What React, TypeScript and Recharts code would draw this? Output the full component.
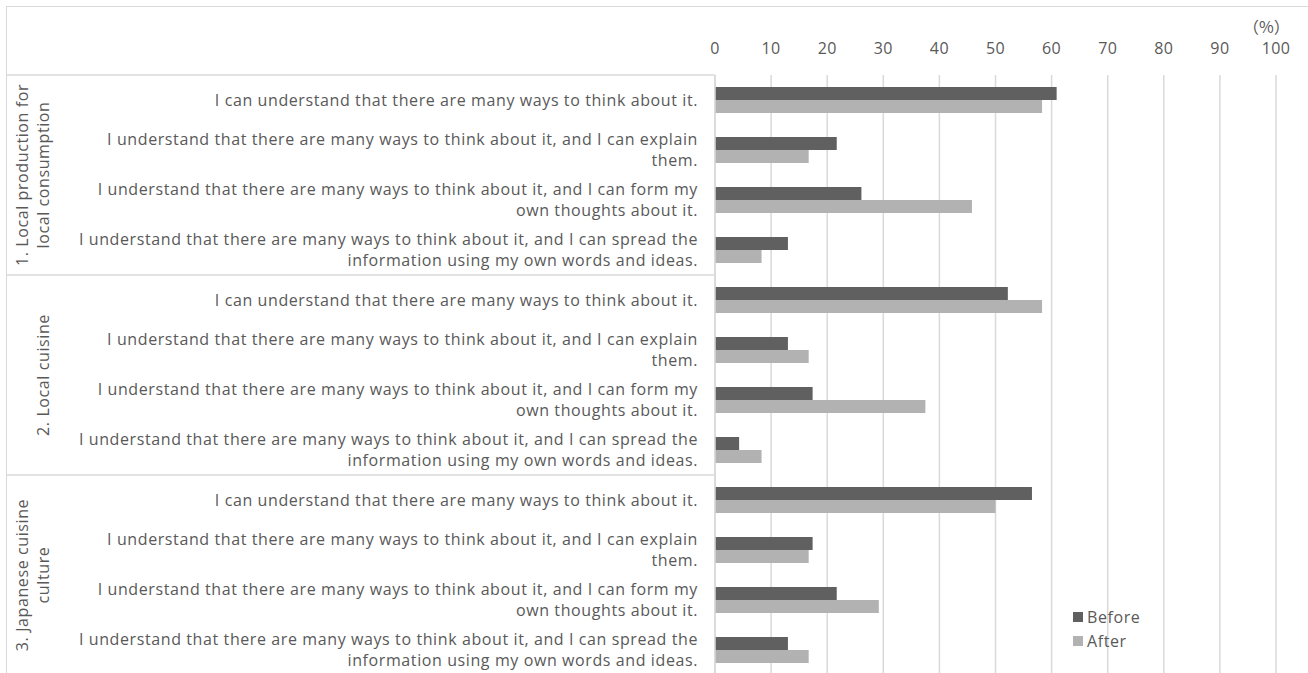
import React from 'react'
import { BarChart, Bar, XAxis, YAxis, CartesianGrid, Legend } from 'recharts'

const groups = [
  '1. Local production for\nlocal consumption',
  '2. Local cuisine',
  '3. Japanese cuisine\nculture',
]

const statements = [
  'I can understand that there are many ways to think about it.',
  'I understand that there are many ways to think about it, and I can explain\nthem.',
  'I understand that there are many ways to think about it, and I can form my\nown thoughts about it.',
  'I understand that there are many ways to think about it, and I can spread the\ninformation using my own words and ideas.',
]

const seriesNames = ['Before', 'After']

// percentages, 4 statements per group, in group order
const before = [60.9, 21.7, 26.1, 13.0, 52.2, 13.0, 17.4, 4.3, 56.5, 17.4, 21.7, 13.0]
const after = [58.3, 16.7, 45.8, 8.3, 58.3, 16.7, 37.5, 8.3, 50.0, 16.7, 29.2, 16.7]

const xTicks = [0, 10, 20, 30, 40, 50, 60, 70, 80, 90, 100]

const data = before.map((b, i) => ({
  key: `r${i}`,
  group: groups[Math.floor(i / statements.length)],
  before: b,
  after: after[i],
}))

const TEXT = '#595959'
const GRID = '#d9d9d9'
const FONT = '"Open Sans", sans-serif'
const FS = 16
const LS = 0.6
const CHART_W = 1300
const CHART_H = 668
const TOP_AXIS_H = 68
const GROUP_AXIS_W = 40
const ROW_AXIS_W = 668
const groupBand = (CHART_H - TOP_AXIS_H) / groups.length

function TopTick({ x, payload }: any) {
  return (
    <text x={x} y={47} textAnchor="middle" fill={TEXT} fontSize={FS} fontFamily={FONT} letterSpacing={0.4}>
      {payload.value}
    </text>
  )
}

function RowTick({ x, y, index }: any) {
  const lines = statements[index % statements.length].split('\n')
  return (
    <text x={x} textAnchor="end" fill={TEXT} fontSize={FS} fontFamily={FONT} letterSpacing={LS}>
      {lines.map((l, i) => (
        <tspan key={i} x={x} y={y + (i - (lines.length - 1) / 2) * 21.5 + 5.5}>
          {l}
        </tspan>
      ))}
    </text>
  )
}

function GroupTick({ y, payload }: any) {
  const lines = String(payload.value).split('\n')
  const lastX = 36
  const top = y - groupBand / 2
  return (
    <g>
      <line x1={0} x2={GROUP_AXIS_W + ROW_AXIS_W} y1={top} y2={top} stroke={GRID} strokeWidth={1.5} />
      {lines.map((l, i) => {
        const cx = lastX - (lines.length - 1 - i) * 21
        return (
          <text
            key={i}
            x={cx}
            y={y}
            textAnchor="middle"
            dominantBaseline="central"
            fill={TEXT}
            fontSize={FS}
            fontFamily={FONT}
            letterSpacing={LS}
            transform={`rotate(-90, ${cx}, ${y})`}
          >
            {l}
          </text>
        )
      })}
    </g>
  )
}

function LegendBox({ payload }: any) {
  const items = [...(payload || [])].sort(
    (a: any, b: any) => seriesNames.indexOf(a.value) - seriesNames.indexOf(b.value)
  )
  return (
    <div style={{ fontFamily: FONT, fontSize: FS, color: TEXT, letterSpacing: LS }}>
      {items.map((p: any) => (
        <div key={p.value} style={{ display: 'flex', alignItems: 'center', height: 24 }}>
          <span style={{ width: 10, height: 10, background: p.color, marginRight: 4, display: 'inline-block' }} />
          {p.value}
        </div>
      ))}
    </div>
  )
}

export default function App() {
  return (
    <div style={{ position: 'fixed', left: 0, top: 0, width: 1308, height: 673, overflow: 'hidden', background: '#fff' }}>
      <div style={{ position: 'absolute', left: 6, top: 6, width: 1302, height: 700, border: `1px solid ${GRID}` }}>
        <span
          style={{
            position: 'absolute',
            left: 1236,
            top: 11,
            fontSize: 16,
            lineHeight: '16px',
            color: TEXT,
            fontFamily: '"Noto Sans CJK JP", serif',
          }}
        >
          （%）
        </span>
        <BarChart
          width={CHART_W}
          height={CHART_H}
          data={data}
          layout="vertical"
          barSize={13}
          barGap={0}
          margin={{ top: 0, right: 31, bottom: 0, left: 0 }}
        >
          <CartesianGrid horizontal={false} stroke={GRID} strokeWidth={1.5} />
          <XAxis
            type="number"
            orientation="top"
            domain={[0, 100]}
            ticks={xTicks}
            height={TOP_AXIS_H}
            axisLine={false}
            tickLine={false}
            tick={<TopTick />}
          />
          <YAxis
            yAxisId="a-rows"
            type="category"
            dataKey="key"
            width={ROW_AXIS_W}
            axisLine={{ stroke: GRID, strokeWidth: 1.5 }}
            tickLine={false}
            tickSize={6}
            tickMargin={11}
            interval={0}
            tick={<RowTick />}
          />
          <YAxis
            yAxisId="b-groups"
            type="category"
            dataKey="group"
            allowDuplicatedCategory={false}
            width={GROUP_AXIS_W}
            axisLine={false}
            tickLine={false}
            interval={0}
            tick={<GroupTick />}
          />
          <Legend
            layout="vertical"
            align="center"
            verticalAlign="middle"
            content={<LegendBox />}
            wrapperStyle={{ left: 1066, top: 598, width: 100 }}
          />
          <Bar yAxisId="a-rows" dataKey="before" name="Before" fill="#606060" isAnimationActive={false} />
          <Bar yAxisId="a-rows" dataKey="after" name="After" fill="#b2b2b2" isAnimationActive={false} />
        </BarChart>
      </div>
    </div>
  )
}
